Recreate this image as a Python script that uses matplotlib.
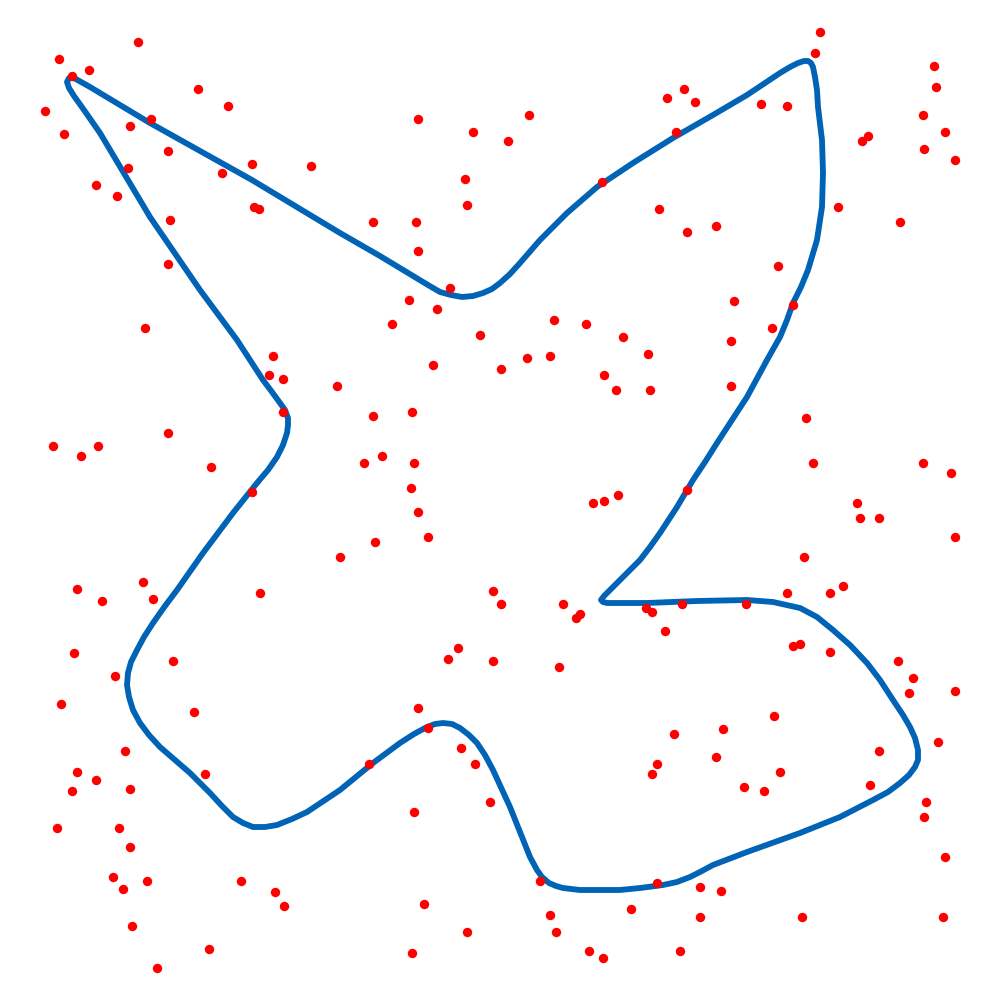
import matplotlib
matplotlib.use("Agg")
import matplotlib.pyplot as plt

# closed outline, traced in picture coordinates (y grows downward)
curve_x = [74, 90, 150, 252, 340, 380, 413, 428, 440, 451, 462, 473, 483, 492, 500,
           510, 520, 540, 567, 597, 633, 673, 713, 747, 780, 790, 798, 804, 808, 811,
           813, 815, 817, 818, 822, 823, 822, 817, 808, 801, 793, 787, 780, 767, 747,
           732, 717, 705, 693, 677, 660, 650, 640, 623, 612, 604, 601, 603, 607, 647,
           697, 747, 773, 800, 817, 833, 850, 867, 880, 893, 903, 910, 915, 918, 918,
           915, 909, 900, 888, 873, 840, 800, 747, 713, 700, 690, 677, 663, 640, 620,
           580, 563, 556, 549, 542, 537, 530, 522, 510, 493, 485, 477, 469, 460, 452,
           443, 435, 427, 414, 400, 373, 340, 307, 292, 277, 265, 253, 243, 233, 222,
           210, 190, 160, 149, 140, 133, 129, 127, 128, 131, 137, 144, 153, 165, 177,
           203, 233, 257, 268, 277, 283, 287, 288, 288, 285, 280, 272, 263, 237, 200,
           150, 100, 84, 74, 69, 67, 69, 74]
curve_y = [78, 87, 123, 180, 233, 256, 276, 285, 292, 295, 297, 296, 293, 289, 283,
           274, 263, 240, 213, 187, 163, 138, 115, 95, 73, 67, 63, 61, 61, 63,
           67, 77, 90, 107, 140, 173, 207, 240, 270, 287, 303, 320, 337, 360, 397,
           420, 443, 462, 480, 507, 533, 547, 560, 577, 588, 596, 600, 602, 603, 603,
           601, 600, 602, 608, 617, 630, 645, 663, 680, 700, 715, 727, 738, 750, 760,
           767, 775, 783, 792, 800, 817, 833, 852, 865, 872, 877, 882, 885, 888, 890,
           890, 888, 886, 883, 877, 870, 857, 837, 807, 770, 755, 743, 735, 728, 724,
           723, 724, 727, 734, 743, 763, 790, 812, 819, 825, 827, 827, 823, 817, 806,
           793, 773, 747, 735, 723, 710, 697, 685, 673, 662, 650, 637, 623, 606, 590,
           553, 513, 483, 470, 457, 445, 433, 425, 418, 410, 403, 392, 380, 340, 290,
           217, 133, 110, 96, 88, 82, 78, 78]

pts_x = [138, 59, 72, 89, 45, 64, 198, 228, 151, 130, 168, 128, 252, 311, 222, 96, 117,
         254, 259, 170, 168, 145,
         418, 473, 508, 529, 667, 465, 467, 373, 416, 418, 602, 659, 450, 409, 437, 392,
         480, 554, 586, 623,
         820, 815, 684, 695, 761, 787, 676, 934, 936, 923, 945, 868, 862, 924, 955, 838,
         900, 716, 687, 778, 734, 793, 772, 731,
         273, 269, 283, 337, 283, 168, 53, 81, 98, 211, 252, 340, 77, 143, 102, 153, 260,
         74, 173,
         648, 433, 501, 527, 550, 604, 616, 650, 373, 412, 364, 382, 414, 411, 418, 375,
         428, 593, 604, 618, 493, 501, 563, 580, 576, 646, 652, 665, 458, 448, 493, 559,
         731, 806, 813, 687, 923, 951, 857, 860, 879, 955, 804, 787, 830, 843, 682, 746,
         793, 800, 830, 898,
         115, 61, 194, 125, 77, 96, 72, 130, 205, 57, 119, 130, 113, 123, 147, 241, 275,
         284, 132, 209, 157,
         418, 428, 369, 461, 475, 490, 414, 652, 657, 540, 657, 424, 550, 556, 467, 631,
         412, 589, 603,
         913, 909, 955, 774, 723, 674, 716, 780, 744, 764, 879, 938, 870, 926, 924, 945,
         700, 721, 700, 802, 943, 680]
pts_y = [42, 59, 76, 70, 111, 134, 89, 106, 119, 126, 151, 168, 164, 166, 173, 185, 196,
         207, 209, 220, 264, 328,
         119, 132, 141, 115, 98, 179, 205, 222, 222, 251, 182, 209, 288, 300, 309, 324,
         335, 320, 324, 337,
         32, 53, 89, 102, 104, 106, 132, 66, 87, 115, 132, 136, 141, 149, 160, 207,
         222, 226, 232, 266, 301, 305, 328, 341,
         356, 375, 379, 386, 412, 433, 446, 456, 446, 467, 492, 557, 589, 582, 601, 599,
         593, 653, 661,
         354, 365, 369, 358, 356, 375, 390, 390, 416, 412, 463, 456, 463, 488, 512, 542,
         537, 503, 501, 495, 591, 604, 604, 614, 618, 608, 612, 631, 648, 659, 661, 667,
         386, 418, 463, 490, 463, 473, 503, 518, 518, 537, 557, 593, 593, 586, 604, 604,
         646, 644, 652, 661,
         676, 704, 712, 751, 772, 780, 791, 789, 774, 828, 828, 847, 877, 889, 881, 881,
         892, 906, 926, 949, 968,
         708, 728, 764, 748, 764, 802, 812, 774, 764, 881, 883, 904, 915, 932, 932, 909,
         953, 951, 958,
         678, 693, 691, 716, 729, 734, 757, 772, 787, 791, 751, 742, 785, 802, 817, 857,
         887, 891, 917, 917, 917, 951]

fig = plt.figure(figsize=(10, 10), dpi=100)
ax = fig.add_axes([0, 0, 1, 1])
ax.plot(curve_x, curve_y, color="#0063B5", linewidth=4.2,
        solid_joinstyle="round", solid_capstyle="round", zorder=1)
ax.scatter(pts_x, pts_y, s=46, color="red", linewidths=0, zorder=2)
ax.set_xlim(0, 1000)
ax.set_ylim(1000, 0)
ax.axis("off")

fig.savefig("out.png", dpi=100, facecolor="white")
